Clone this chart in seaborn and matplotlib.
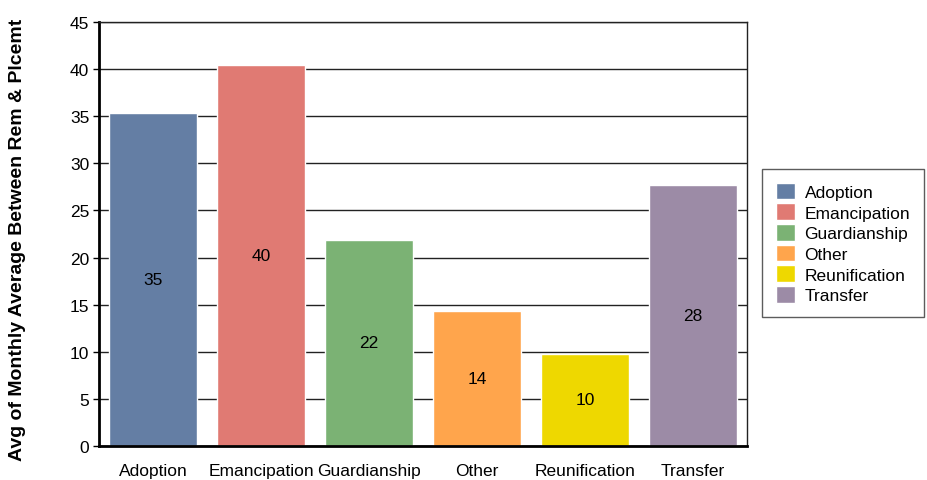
import numpy as np
import pandas as pd
import matplotlib
matplotlib.use("Agg")
import matplotlib.pyplot as plt
import seaborn as sns
from matplotlib.patches import Patch

categories = ["Adoption", "Emancipation", "Guardianship", "Other", "Reunification", "Transfer"]
values = [35.35, 40.4, 21.9, 14.3, 9.8, 27.7]
colors = ["#647ea4", "#e07a73", "#7bb274", "#ffa54c", "#eed800", "#9c8ba6"]
yticks = [0, 5, 10, 15, 20, 25, 30, 35, 40, 45]
ylabel = "Avg of Monthly Average Between Rem & Plcemt"

sns.set_theme(style="white")
plt.rcParams["font.family"] = ["Liberation Sans", "DejaVu Sans"]
plt.rcParams["text.color"] = "black"
plt.rcParams["axes.labelcolor"] = "black"
plt.rcParams["xtick.color"] = "black"
plt.rcParams["ytick.color"] = "black"

df = pd.DataFrame({"reason": categories, "months": values})

fig = plt.figure(figsize=(9.28, 4.81), dpi=100)
ax = fig.add_axes([0.1067, 0.0707, 0.6983, 0.8815])
sns.barplot(data=df, x="reason", y="months", hue="reason", order=categories,
            hue_order=categories, palette=colors, saturation=1, width=0.815,
            dodge=False, legend=False, ax=ax)

# value labels in the middle of each bar
for p in ax.patches:
    h = p.get_height()
    if np.isnan(h) or h == 0:
        continue
    ax.text(p.get_x() + p.get_width() / 2, h / 2, f"{h:.0f}",
            ha="center", va="center", fontsize=12.5, color="black")

ax.set_ylim(0, 45)
ax.set_yticks(yticks)
ax.set_xlim(-0.5, len(categories) - 0.5)
ax.yaxis.grid(True, color="#222222", lw=1)
ax.set_axisbelow(True)
ax.tick_params(axis="y", left=True, length=4, width=1, color="black", labelsize=12.5, pad=3)
ax.tick_params(axis="x", bottom=False, labelsize=12.5, pad=6)
ax.set_xlabel("")
ax.set_ylabel(ylabel, fontweight="bold", fontsize=14)
ax.yaxis.set_label_coords(-0.113, 0.488)
for side in ["left", "bottom"]:
    ax.spines[side].set_linewidth(2)
    ax.spines[side].set_color("black")
for side in ["top", "right"]:
    ax.spines[side].set_linewidth(1)
    ax.spines[side].set_color("#222222")

handles = [Patch(facecolor=c, label=l) for c, l in zip(colors, categories)]
leg = ax.legend(handles=handles, loc="center left", bbox_to_anchor=(762 / 928, 237 / 481),
                bbox_transform=fig.transFigure, frameon=True, fancybox=False,
                fontsize=12.5, handlelength=1.1, handleheight=1.1, handletextpad=0.55,
                labelspacing=0.2, borderpad=0.8, borderaxespad=0)
leg.get_frame().set_edgecolor("#333333")
leg.get_frame().set_linewidth(1)

fig.savefig("out.png", dpi=100)
